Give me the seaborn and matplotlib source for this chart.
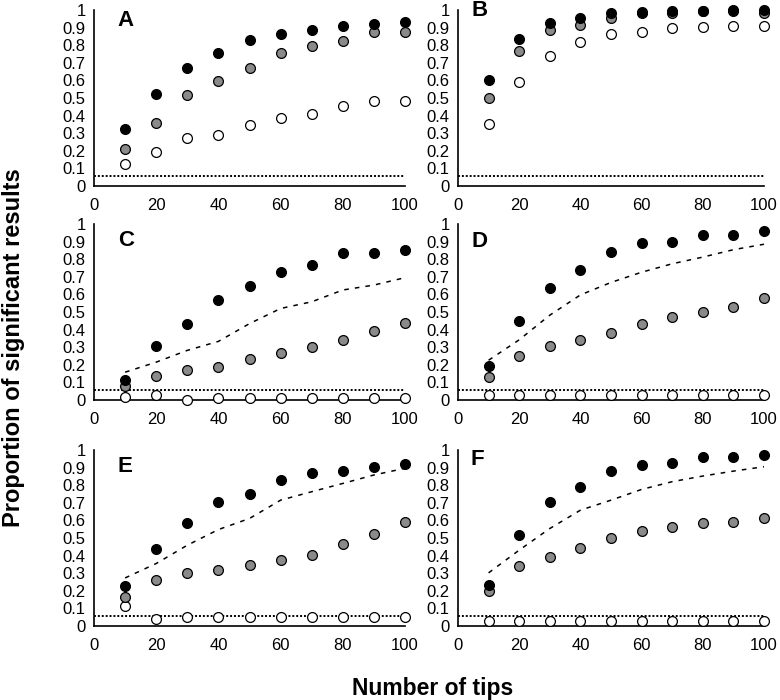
import matplotlib
matplotlib.use("Agg")
import matplotlib.pyplot as plt
import seaborn as sns
import numpy as np
import pandas as pd

sns.set_theme(style="white")
plt.rcParams['font.family'] = ['Liberation Sans', 'DejaVu Sans']

tips = [10, 20, 30, 40, 50, 60, 70, 80, 90, 100]
y_ticks = [0, 0.1, 0.2, 0.3, 0.4, 0.5, 0.6, 0.7, 0.8, 0.9, 1]
y_tick_labels = ["0", "0.1", "0.2", "0.3", "0.4", "0.5", "0.6", "0.7", "0.8", "0.9", "1"]
x_ticks = [0, 20, 40, 60, 80, 100]
panel_letters = ["A", "B", "C", "D", "E", "F"]
alpha_level = 0.055

# Black (filled) series
A_black = [0.326, 0.525, 0.672, 0.757, 0.830, 0.866, 0.889, 0.908, 0.919, 0.930]
B_black = [0.600, 0.836, 0.927, 0.956, 0.981, 0.990, 0.994, 0.996, 0.998, 0.998]
C_black = [0.116, 0.305, 0.434, 0.568, 0.648, 0.730, 0.768, 0.838, 0.838, 0.850]
D_black = [0.194, 0.451, 0.639, 0.741, 0.843, 0.893, 0.900, 0.937, 0.940, 0.962]
E_black = [0.230, 0.440, 0.583, 0.702, 0.750, 0.829, 0.871, 0.880, 0.901, 0.920]
F_black = [0.235, 0.518, 0.704, 0.789, 0.879, 0.915, 0.926, 0.958, 0.958, 0.970]

# Grey series
A_grey = [0.211, 0.357, 0.515, 0.594, 0.672, 0.757, 0.794, 0.823, 0.877, 0.877]
B_grey = [0.500, 0.766, 0.884, 0.917, 0.952, 0.981, 0.983, 0.994, 0.994, 0.985]
C_grey = [0.082, 0.135, 0.168, 0.190, 0.234, 0.267, 0.301, 0.343, 0.390, 0.440]
D_grey = [0.129, 0.248, 0.305, 0.340, 0.380, 0.430, 0.470, 0.501, 0.530, 0.580]
E_grey = [0.165, 0.262, 0.302, 0.317, 0.345, 0.374, 0.404, 0.465, 0.522, 0.592]
F_grey = [0.201, 0.342, 0.393, 0.446, 0.499, 0.537, 0.560, 0.583, 0.592, 0.613]

# White (open) series
A_white = [0.125, 0.191, 0.274, 0.289, 0.345, 0.385, 0.408, 0.453, 0.481, 0.485]
B_white = [0.353, 0.593, 0.737, 0.819, 0.861, 0.873, 0.898, 0.903, 0.909, 0.907]
C_white = [0.019, 0.030, 0.000, 0.010, 0.010, 0.010, 0.010, 0.010, 0.010, 0.010]
D_white = [0.029, 0.029, 0.029, 0.029, 0.029, 0.029, 0.029, 0.029, 0.029, 0.029]
E_white = [0.112, 0.042, 0.051, 0.051, 0.051, 0.051, 0.051, 0.051, 0.051, 0.051]
F_white = [0.030, 0.030, 0.030, 0.030, 0.030, 0.030, 0.030, 0.030, 0.030, 0.030]

# Dashed reference curves (panels C-F only)
C_dashed = [0.158, 0.215, 0.282, 0.333, 0.434, 0.520, 0.558, 0.625, 0.653, 0.695]
D_dashed = [0.226, 0.342, 0.482, 0.597, 0.668, 0.726, 0.774, 0.812, 0.854, 0.885]
E_dashed = [0.273, 0.355, 0.459, 0.548, 0.611, 0.715, 0.763, 0.810, 0.858, 0.896]
F_dashed = [0.302, 0.431, 0.554, 0.658, 0.715, 0.776, 0.820, 0.852, 0.880, 0.905]

blacks = [A_black, B_black, C_black, D_black, E_black, F_black]
greys = [A_grey, B_grey, C_grey, D_grey, E_grey, F_grey]
whites = [A_white, B_white, C_white, D_white, E_white, F_white]
dashes = [None, None, C_dashed, D_dashed, E_dashed, F_dashed]

fig = plt.figure(figsize=(7.8, 7.0), dpi=100)
W, H = 780.0, 700.0
col_x = [94 / W, 458 / W]
col_w = [311 / W, 306 / W]
row_bottom = [1 - 186 / H, 1 - 400 / H, 1 - 626 / H]
row_h = 176 / H
letter_pos = [(7.5, 0.91), (4.5, 0.965), (7.7, 0.874), (4.5, 0.868), (7.7, 0.875), (4.2, 0.915)]

for i in range(6):
    r, c = divmod(i, 2)
    ax = fig.add_axes([col_x[c], row_bottom[r], col_w[c], row_h])
    ax.axhline(alpha_level, color="black", lw=1.4, linestyle=(0, (1, 1)), zorder=1)
    if dashes[i] is not None:
        sns.lineplot(x=tips, y=dashes[i], ax=ax, color="black", lw=1.1,
                     linestyle=(0, (3, 4)), zorder=2)
    for vals, fc in [(whites[i], "white"), (greys[i], "#8a8a8a"), (blacks[i], "black")]:
        sns.scatterplot(x=tips, y=vals, ax=ax, s=50, color=fc, edgecolor="black",
                        linewidth=0.9, zorder=3, clip_on=False)
    ax.set_xlim(0, 100)
    ax.set_ylim(0, 1)
    ax.set_xticks(x_ticks)
    ax.set_yticks(y_ticks)
    ax.set_yticklabels(y_tick_labels)
    ax.tick_params(axis="y", direction="in", length=3, width=1, pad=6, labelsize=12, colors="black")
    ax.tick_params(axis="x", direction="out", length=4, width=1, pad=5, labelsize=12, colors="black")
    for side in ["top", "right"]:
        ax.spines[side].set_visible(False)
    for side in ["left", "bottom"]:
        ax.spines[side].set_color("black")
        ax.spines[side].set_linewidth(1.2)
    ax.set_xlabel("")
    ax.set_ylabel("")
    ax.text(letter_pos[i][0], letter_pos[i][1], panel_letters[i], fontsize=16,
            fontweight="bold", ha="left", va="baseline", color="black")

fig.text(14 / W, 1 - 348 / H, "Proportion of significant results", rotation=90,
         ha="center", va="center", fontsize=17, fontweight="bold", color="black")
fig.text(433 / W, 1 - 688 / H, "Number of tips", ha="center", va="center",
         fontsize=16.5, fontweight="bold", color="black")

fig.savefig("out.png", dpi=100, facecolor="white")
